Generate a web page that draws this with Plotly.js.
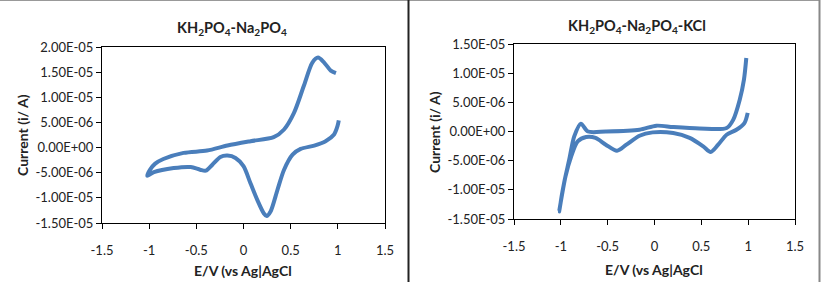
<!DOCTYPE html>
<html>
<head>
<meta charset="utf-8">
<script src="https://cdn.plot.ly/plotly-3.0.1.min.js"></script>
<style>
  html, body { margin: 0; padding: 0; background: #fff; }
  #chart { width: 824px; height: 282px; }
</style>
</head>
<body>
<div id="chart"></div>
<script>
// Cyclic voltammograms, potential E/V vs Ag|AgCl, current in A
const leftE = [0.98, 0.925, 0.855, 0.79, 0.73, 0.64, 0.535, 0.43, 0.32, 0.074, -0.17, -0.386, -0.635, -0.85, -0.936, -0.99, -1.02,
               -0.95, -0.74, -0.56, -0.46, -0.40, -0.33, -0.245, -0.17, -0.085, 0.0, 0.074, 0.146, 0.216, 0.245, 0.287, 0.36, 0.43, 0.52, 0.606, 0.75, 0.87, 0.96, 0.997, 1.01];
const leftI = [1.48e-5, 1.53e-5, 1.69e-5, 1.79e-5, 1.69e-5, 1.23e-5, 6.9e-6, 3.6e-6, 2.07e-6, 1.27e-6, 4.0e-7, -6.0e-7, -1.06e-6, -2.27e-6, -3.2e-6, -4.4e-6, -5.6e-6,
               -4.9e-6, -4.07e-6, -3.87e-6, -4.4e-6, -4.6e-6, -3.4e-6, -1.87e-6, -1.6e-6, -2.07e-6, -3.7e-6, -7.1e-6, -1.04e-5, -1.31e-5, -1.36e-5, -1.27e-5, -8.4e-6, -4.4e-6, -1.4e-6, -2.7e-7, 4.0e-7, 1.27e-6, 2.6e-6, 4.3e-6, 5.4e-6];

const rightE = [0.98, 0.955, 0.91, 0.84, 0.77, 0.48, 0.2, 0.02, -0.16, -0.52, -0.71, -0.786, -0.857, -0.91, -0.965, -1.018,
                -0.95, -0.89, -0.82, -0.73, -0.63, -0.52, -0.40, -0.30, -0.16, -0.02, 0.2, 0.375, 0.52, 0.6, 0.68, 0.77, 0.875, 0.96, 0.995];
const rightI = [1.26e-5, 8.9e-6, 5.45e-6, 2.0e-6, 6.0e-7, 5.3e-7, 7.7e-7, 1.0e-6, 3.0e-7, 0.0, 0.0, 1.34e-6, -8.4e-7, -4.8e-6, -8.8e-6, -1.37e-5,
                -7.7e-6, -4.3e-6, -1.7e-6, -9.5e-7, -1.1e-6, -2.26e-6, -3.3e-6, -2.26e-6, -7.2e-7, -1.5e-7, -2.6e-7, -1.1e-6, -2.55e-6, -3.5e-6, -2.26e-6, -5.5e-7, 3.0e-7, 1.45e-6, 3.2e-6];

const xTickVals = [-1.5, -1, -0.5, 0, 0.5, 1, 1.5];
const xTickText = ['-1.5', '-1', '-0.5', '0', '0.5', '1', '1.5'];
const leftYTickVals = [-1.5e-5, -1.0e-5, -5.0e-6, 0, 5.0e-6, 1.0e-5, 1.5e-5, 2.0e-5];
const leftYTickText = ['-1.50E-05', '-1.00E-05', '-5.00E-06', '0.00E+00', '5.00E-06', '1.00E-05', '1.50E-05', '2.00E-05'];
const rightYTickVals = [-1.5e-5, -1.0e-5, -5.0e-6, 0, 5.0e-6, 1.0e-5, 1.5e-5];
const rightYTickText = ['-1.50E-05', '-1.00E-05', '-5.00E-06', '0.00E+00', '5.00E-06', '1.00E-05', '1.50E-05'];

const leftTitle = 'KH<sub>2</sub>PO<sub>4</sub>-Na<sub>2</sub>PO<sub>4</sub>';
const rightTitle = 'KH<sub>2</sub>PO<sub>4</sub>-Na<sub>2</sub>PO<sub>4</sub>-KCl';
const xTitle = 'E/V (vs Ag|AgCl';
const yTitle = 'Current (i/ A)';

const W = 824, H = 282;
const px = x => x / W;
const py = y => 1 - y / H;

const FONT = 'Lato, "Open Sans", sans-serif';
const lineStyle = { color: 'rgb(74,126,187)', width: 4, shape: 'spline', smoothing: 0.8 };

const traces = [
  { x: leftE, y: leftI, xaxis: 'x', yaxis: 'y', mode: 'lines', line: lineStyle, hoverinfo: 'skip' },
  { x: rightE, y: rightI, xaxis: 'x2', yaxis: 'y2', mode: 'lines', line: lineStyle, hoverinfo: 'skip' }
];

const tickFont = { family: FONT, size: 13, color: '#222' };

function xAxis(domain, anchor) {
  return {
    domain: domain, anchor: anchor, range: [-1.5, 1.5],
    tickmode: 'array', tickvals: xTickVals, ticktext: xTickText,
    ticks: 'outside', ticklen: 5, tickcolor: '#000', tickwidth: 1,
    ticklabelstandoff: 10,
    showline: true, linecolor: '#000', linewidth: 1, mirror: true,
    showgrid: false, zeroline: false,
    tickfont: tickFont
  };
}
function yAxis(domain, anchor, range, vals, text) {
  return {
    domain: domain, anchor: anchor, range: range,
    tickmode: 'array', tickvals: vals, ticktext: text,
    ticks: 'outside', ticklen: 5, tickcolor: '#000', tickwidth: 1,
    showline: true, linecolor: '#000', linewidth: 1, mirror: true,
    showgrid: false, zeroline: false,
    tickfont: tickFont
  };
}

const titleFont = { family: FONT, size: 14.5, color: '#222', weight: 'bold' };
const axisTitleFont = { family: FONT, size: 14, color: '#222', weight: 'bold' };

function ann(text, x, y, font, angle) {
  return { text: text, xref: 'paper', yref: 'paper', x: px(x), y: py(y),
           xanchor: 'center', yanchor: 'middle', showarrow: false,
           font: font, textangle: angle || 0 };
}

const layout = {
  width: W, height: H,
  margin: { l: 0, r: 0, t: 0, b: 0 },
  paper_bgcolor: '#fff', plot_bgcolor: '#fff',
  showlegend: false,
  xaxis: xAxis([px(102), px(385)], 'y'),
  yaxis: yAxis([py(223), py(47)], 'x', [-1.5e-5, 2.0e-5], leftYTickVals, leftYTickText),
  xaxis2: xAxis([px(514), px(795)], 'y2'),
  yaxis2: yAxis([py(219), py(44)], 'x2', [-1.5e-5, 1.5e-5], rightYTickVals, rightYTickText),
  annotations: [
    ann(leftTitle, 232, 29, titleFont),
    ann(rightTitle, 637, 27, titleFont),
    ann(xTitle, 243, 270, axisTitleFont),
    ann(xTitle, 654, 269, axisTitleFont),
    ann(yTitle, 22, 135, axisTitleFont, -90),
    ann(yTitle, 434, 132, axisTitleFont, -90)
  ],
  shapes: [
    // outer frame and panel divider
    { type: 'line', xref: 'paper', yref: 'paper', x0: 0, x1: px(820), y0: py(0.5), y1: py(0.5), line: { color: '#999', width: 1 } },
    { type: 'line', xref: 'paper', yref: 'paper', x0: px(408.5), x1: px(408.5), y0: 0, y1: 1, line: { color: '#222', width: 2 } },
    { type: 'line', xref: 'paper', yref: 'paper', x0: px(819.5), x1: px(819.5), y0: 0, y1: 1, line: { color: '#888', width: 2 } }
  ]
};

Plotly.newPlot('chart', traces, layout, { staticPlot: true, displayModeBar: false });
</script>
</body>
</html>
